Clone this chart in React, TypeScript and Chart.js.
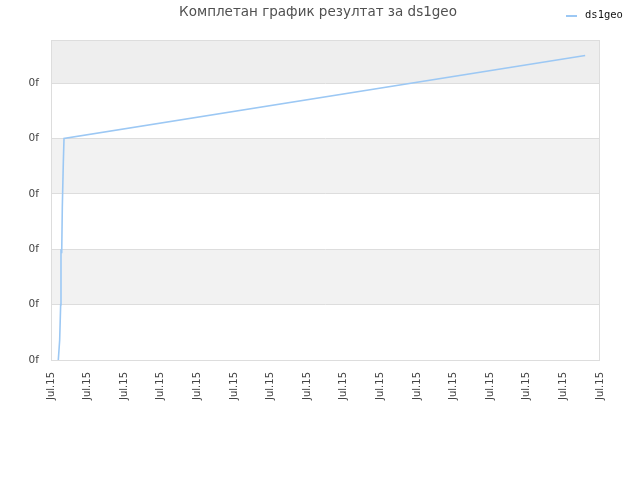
import React, { useEffect, useRef } from "react";
import { Chart, registerables } from "chart.js";

Chart.register(...registerables);

const TITLE = "Комплетан график резултат за ds1geo";
const SERIES_LABEL = "ds1geo";
const X_TICK_LABEL = "Jul.15";
const Y_TICK_LABEL = "0f";

// x positions (time units, 0..100 axis), y values
const xValues = [1.33, 1.58, 1.76, 1.82, 1.95, 2.06, 2.24, 2.37, 97.3];
const yValues = [0.0, 0.36, 1.0, 2.0, 1.93, 2.75, 3.55, 4.0, 5.5];

const X_MIN = 0;
const X_MAX = 100;
const X_TICK_COUNT = 16;
const Y_MIN = 0;
const Y_MAX = 5.78;
const yTickValues = [0, 1, 2, 3, 4, 5];
// band colours from bottom band upward
const bandColors = ["#ffffff", "#f2f2f2", "#ffffff", "#f2f2f2", "#ffffff", "#eeeeee"];

const LINE_COLOR = "#9cc8f4";

export default function App() {
  const ref = useRef<HTMLCanvasElement | null>(null);

  useEffect(() => {
    if (!ref.current) return;
    const bandPlugin = {
      id: "bands",
      beforeDraw(chart: any) {
        const { ctx, chartArea } = chart;
        const y = chart.scales.y;
        const bounds = [...yTickValues, Y_MAX];
        ctx.save();
        for (let i = 0; i < bounds.length - 1; i++) {
          const top = y.getPixelForValue(bounds[i + 1]);
          const bot = y.getPixelForValue(bounds[i]);
          ctx.fillStyle = bandColors[i];
          ctx.fillRect(chartArea.left, top, chartArea.right - chartArea.left, bot - top);
        }
        ctx.restore();
      },
      afterDraw(chart: any) {
        const { ctx, chartArea } = chart;
        ctx.save();
        ctx.strokeStyle = "#dddddd";
        ctx.lineWidth = 1;
        ctx.strokeRect(
          Math.round(chartArea.left) + 0.5,
          Math.round(chartArea.top) + 0.5,
          Math.round(chartArea.right - chartArea.left) - 1,
          Math.round(chartArea.bottom - chartArea.top)
        );
        // title
        ctx.fillStyle = "#505050";
        ctx.font = "13.5px 'DejaVu Sans'";
        ctx.textAlign = "center";
        ctx.textBaseline = "middle";
        ctx.fillText(TITLE, 318, 12.5);
        // legend
        const ds = chart.data.datasets[0];
        ctx.strokeStyle = ds.borderColor;
        ctx.lineWidth = 2;
        ctx.beginPath();
        ctx.moveTo(566, 16);
        ctx.lineTo(577, 16);
        ctx.stroke();
        ctx.fillStyle = "#111111";
        ctx.font = "10.5px 'DejaVu Sans Mono'";
        ctx.textAlign = "left";
        ctx.fillText(ds.label, 585, 15);
        ctx.restore();
      },
    };

    const chart = new Chart(ref.current, {
      type: "line",
      data: {
        datasets: [
          {
            label: SERIES_LABEL,
            data: xValues.map((x, i) => ({ x, y: yValues[i] })),
            borderColor: LINE_COLOR,
            backgroundColor: LINE_COLOR,
            borderWidth: 1.6,
            pointRadius: 0,
            tension: 0,
            fill: false,
          },
        ],
      },
      options: {
        animation: false,
        responsive: false,
        devicePixelRatio: 1,
        layout: { padding: { top: 40, right: 40, left: 0, bottom: 0 } },
        plugins: {
          legend: { display: false },
          title: { display: false },
          tooltip: { enabled: false },
        },
        scales: {
          x: {
            type: "linear",
            min: X_MIN,
            max: X_MAX,
            afterFit: (s: any) => {
              s.height = 120;
            },
            afterBuildTicks: (s: any) => {
              const step = (X_MAX - X_MIN) / (X_TICK_COUNT - 1);
              s.ticks = Array.from({ length: X_TICK_COUNT }, (_, i) => ({ value: X_MIN + i * step }));
            },
            border: { display: false },
            grid: { display: false, drawTicks: false },
            ticks: {
              autoSkip: false,
              maxRotation: 90,
              minRotation: 90,
              padding: 12,
              color: "#444444",
              font: { family: "'DejaVu Sans'", size: 10 },
              callback: () => X_TICK_LABEL,
            },
          },
          y: {
            type: "linear",
            min: Y_MIN,
            max: Y_MAX,
            afterFit: (s: any) => {
              s.width = 51;
            },
            afterBuildTicks: (s: any) => {
              s.ticks = yTickValues.map((v) => ({ value: v }));
            },
            border: { display: false },
            grid: { color: "#dddddd", drawTicks: false, lineWidth: 1 },
            ticks: {
              padding: 12,
              color: "#444444",
              font: { family: "'DejaVu Sans'", size: 10.5 },
              callback: () => Y_TICK_LABEL,
            },
          },
        },
      },
      plugins: [bandPlugin],
    });
    return () => chart.destroy();
  }, []);

  return (
    <div style={{ position: "fixed", left: 0, top: 0, width: 640, height: 480, background: "#fff" }}>
      <canvas ref={ref} width={640} height={480} style={{ width: 640, height: 480 }} />
    </div>
  );
}
